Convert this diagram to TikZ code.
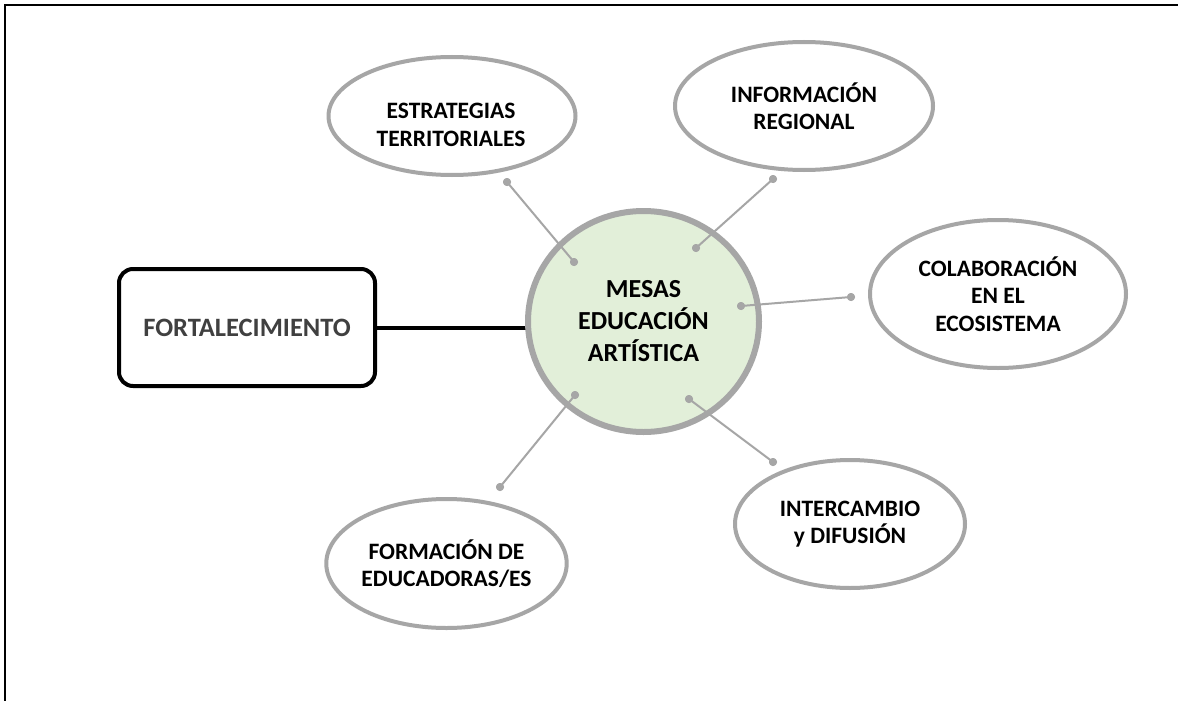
\documentclass[tikz,border=0pt]{standalone}
\usepackage{fontspec}
\setmainfont{Carlito}
\usetikzlibrary{shapes.geometric}
\definecolor{ringgray}{HTML}{A6A6A6}
\definecolor{fillgreen}{HTML}{E2EFD9}
\definecolor{textgray}{HTML}{404040}
\begin{document}
\begin{tikzpicture}[x=1pt,y=-1pt,
  bubble/.style={ellipse, draw=ringgray, line width=4pt, fill=white, inner sep=0pt,
    font=\fontsize{23.5}{27.5}\selectfont\bfseries, align=center},
  bubtext/.style={font=\fontsize{23.5}{27.5}\selectfont\bfseries, align=center, inner sep=0pt},
  link/.style={draw=ringgray, line width=2pt},
  dot/.style={circle, fill=ringgray, inner sep=0pt, minimum size=8pt},
  hub/.style={ellipse, draw=ringgray, line width=6pt, fill=fillgreen, inner sep=0pt,
    minimum width=231pt, minimum height=221pt,
    font=\fontsize{26}{32}\selectfont\bfseries, align=center},
  mainbox/.style={rectangle, rounded corners=14pt, draw=black, line width=4pt,
    minimum width=256pt, minimum height=117pt, text=textgray,
    font=\fontsize{26.5}{30}\selectfont\bfseries}]
\useasboundingbox (0,0) rectangle (1178,701);
\fill[white] (0,0) rectangle (1178,701);
\draw[line width=2pt] (5.3,701) -- (5.3,5.3) -- (1178,5.3);

% main box and hub
\node[mainbox] (fort) at (247,327.5) {FORTALECIMIENTO};
\coordinate (hubc) at (643.5,321.5);
\draw[line width=4pt] (fort.east) -- ([xshift=-115.5pt]hubc |- fort.east) coordinate (hubw);
\node[hub] (hub) at (hubc) {MESAS\\EDUCACIÓN\\ARTÍSTICA};

% bubbles
\node[bubble, minimum width=247pt, minimum height=118pt] (e1) at (452,116) {};
\node[bubtext] (t1) at (451,125) {ESTRATEGIAS\\TERRITORIALES};
\node[bubble, minimum width=258pt, minimum height=128pt] (e2) at (804,106) {INFORMACIÓN\\REGIONAL};
\node[bubble, minimum width=256pt, minimum height=148pt] (e3) at (998,294) {COLABORACIÓN\\EN EL\\ECOSISTEMA};
\node[bubble, minimum width=239pt, minimum height=129pt] (e4) at (446.5,563.5) {FORMACIÓN DE\\EDUCADORAS/ES};
\node[bubble, minimum width=230pt, minimum height=128pt] (e5) at (850,524) {INTERCAMBIO\\y DIFUSIÓN};

% connector end points
\node[dot] (a1) at (507,182) {};  \node[dot] (b1) at (574,262) {};
\node[dot] (a2) at (773,179) {};  \node[dot] (b2) at (696,248) {};
\node[dot] (a3) at (851,297) {};  \node[dot] (b3) at (741,306) {};
\node[dot] (a4) at (500,487) {};  \node[dot] (b4) at (575,395) {};
\node[dot] (a5) at (773,462) {};  \node[dot] (b5) at (689,399) {};
\draw[link] (a1.center) -- (b1.center);
\draw[link] (a2.center) -- (b2.center);
\draw[link] (a3.center) -- (b3.center);
\draw[link] (a4.center) -- (b4.center);
\draw[link] (a5.center) -- (b5.center);
\foreach \d in {a1,b1,a2,b2,a3,b3,a4,b4,a5,b5}{\fill[ringgray] (\d) circle (4pt);}
\end{tikzpicture}
\end{document}
